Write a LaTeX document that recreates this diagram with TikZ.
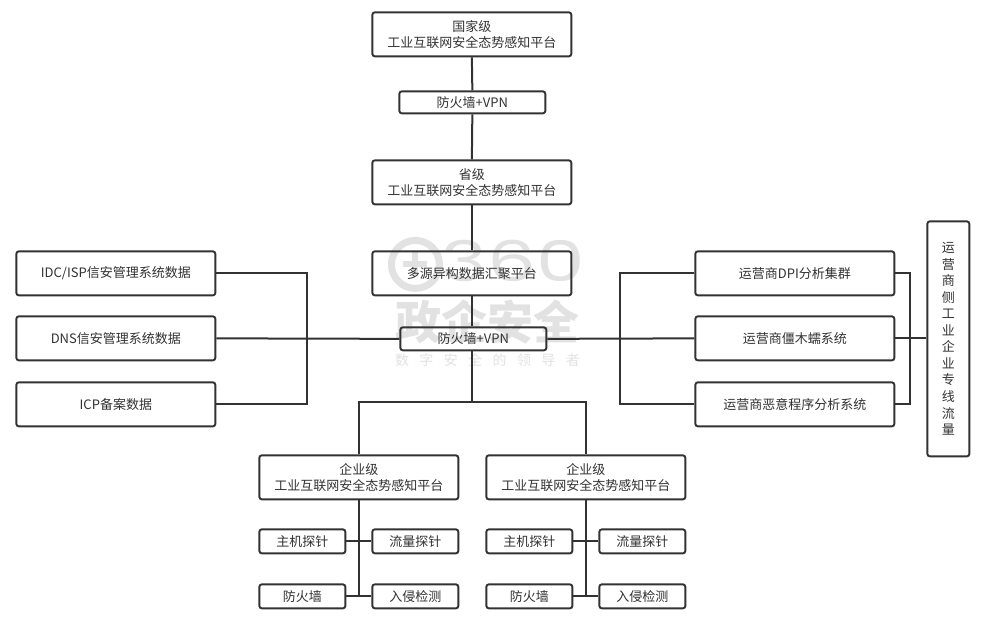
\documentclass[tikz,border=0pt]{standalone}
\usepackage{fontspec}
\setmainfont{Noto Sans CJK SC}[Scale=1]
\newfontfamily\wmfont{Poppins}
\definecolor{ink}{HTML}{323232}
\definecolor{wm}{HTML}{E2E2E2}
\tikzset{
  box/.style={draw=ink,line width=1.9pt,rounded corners=2.5pt,text=ink,font=\fontsize{13}{16.5}\selectfont,align=center,inner sep=0pt,anchor=north west},
  link/.style={draw=ink,line width=2pt},
  wmtext/.style={text=wm,inner sep=0pt}
}
\begin{document}
\begin{tikzpicture}[x=1pt,y=-1pt]
\useasboundingbox (0.6,0.6) rectangle (981.6,619.6);
\fill[white] (0,0) rectangle (982,620);
% watermark
\draw[wm,line width=7pt] (416,265) circle (24);
\draw[wm,line width=6pt] (404,265) -- (428,265) (416,253) -- (416,277);
\node[wmtext,font=\wmfont\fontsize{56}{56}\selectfont,xscale=1.38] (wma) at (514,262) {360};
\node[wmtext,font=\fontsize{46}{46}\selectfont\bfseries] (wmb) at (488,323) {政企安全};
\node[wmtext,font=\fontsize{14}{14}\selectfont] (wmc) at (488,361) {数\hspace{10.4pt}字\hspace{10.4pt}安\hspace{10.4pt}全\hspace{10.4pt}的\hspace{10.4pt}领\hspace{10.4pt}导\hspace{10.4pt}者};
% nodes
\node[box,minimum width=199pt,minimum height=44pt] (nat) at (372,12) {国家级\\工业互联网安全态势感知平台};
\node[box,minimum width=146pt,minimum height=22pt] (fw1) at (399,91) {防火墙+VPN};
\node[box,minimum width=199pt,minimum height=44pt] (prov) at (372,160) {省级\\工业互联网安全态势感知平台};
\node[box,minimum width=199pt,minimum height=44pt] (agg) at (372,251) {多源异构数据汇聚平台};
\node[box,minimum width=146pt,minimum height=23pt] (fw2) at (400,327) {防火墙+VPN};
\node[box,minimum width=199pt,minimum height=44pt] (l1) at (16,251) {IDC/ISP信安管理系统数据};
\node[box,minimum width=199pt,minimum height=44pt] (l2) at (16,316) {DNS信安管理系统数据};
\node[box,minimum width=199pt,minimum height=44pt] (l3) at (16,382) {ICP备案数据};
\node[box,minimum width=199pt,minimum height=44pt] (r1) at (695,251) {运营商DPI分析集群};
\node[box,minimum width=199pt,minimum height=44pt] (r2) at (695,316) {运营商僵木蠕系统};
\node[box,minimum width=199pt,minimum height=44pt] (r3) at (695,382) {运营商恶意程序分析系统};
\node[box,minimum width=42pt,minimum height=235pt,font=\fontsize{13}{16.55}\selectfont] (side) at (927,221) {运\\营\\商\\侧\\工\\业\\企\\业\\专\\线\\流\\量};
\node[box,minimum width=199pt,minimum height=44pt] (e1) at (259,455) {企业级\\工业互联网安全态势感知平台};
\node[box,minimum width=199pt,minimum height=44pt] (e2) at (486,455) {企业级\\工业互联网安全态势感知平台};
\node[box,minimum width=86pt,minimum height=24pt] (a1) at (259,529) {主机探针};
\node[box,minimum width=86pt,minimum height=24pt] (a2) at (372,529) {流量探针};
\node[box,minimum width=86pt,minimum height=24pt] (a3) at (259,584) {防火墙};
\node[box,minimum width=86pt,minimum height=24pt] (a4) at (372,584) {入侵检测};
\node[box,minimum width=86pt,minimum height=24pt] (b1) at (486,529) {主机探针};
\node[box,minimum width=86pt,minimum height=24pt] (b2) at (599,529) {流量探针};
\node[box,minimum width=86pt,minimum height=24pt] (b3) at (486,584) {防火墙};
\node[box,minimum width=86pt,minimum height=24pt] (b4) at (599,584) {入侵检测};
% free junctions
\coordinate (busc) at (fw2.south |- 0,402.5);
\coordinate (jl) at (307.5,338);
\coordinate (jr) at (620.5,338);
\coordinate (js) at (911,338);
% connectors
\draw[link] (nat.south) -- (fw1.north);
\draw[link] (fw1.south) -- (prov.north);
\draw[link] (prov.south) -- (agg.north);
\draw[link] (agg.south) -- (agg.south |- fw2.north);
\draw[link] (agg.south |- fw2.south) -- (agg.south |- busc);
\draw[link] (e1.north) |- (e2.north |- busc) -- (e2.north);
\draw[link] (l2.east) -- (fw2.west);
\draw[link] (fw2.east) -- (r2.west);
\draw[link] (l1.east) -| (jl) |- (l3.east);
\draw[link] (r1.west) -| (jr) |- (r3.west);
\draw[link] (r1.east) -| (js) |- (r3.east);
\draw[link] (r2.east) -- (r2.east -| side.west);
\draw[link] (e1.south) -- (e1.south |- a3.east);
\draw[link] (e2.south) -- (e2.south |- b3.east);
\draw[link] (a1.east) -- (a2.west);
\draw[link] (a3.east) -- (a4.west);
\draw[link] (b1.east) -- (b2.west);
\draw[link] (b3.east) -- (b4.west);
\end{tikzpicture}
\end{document}
